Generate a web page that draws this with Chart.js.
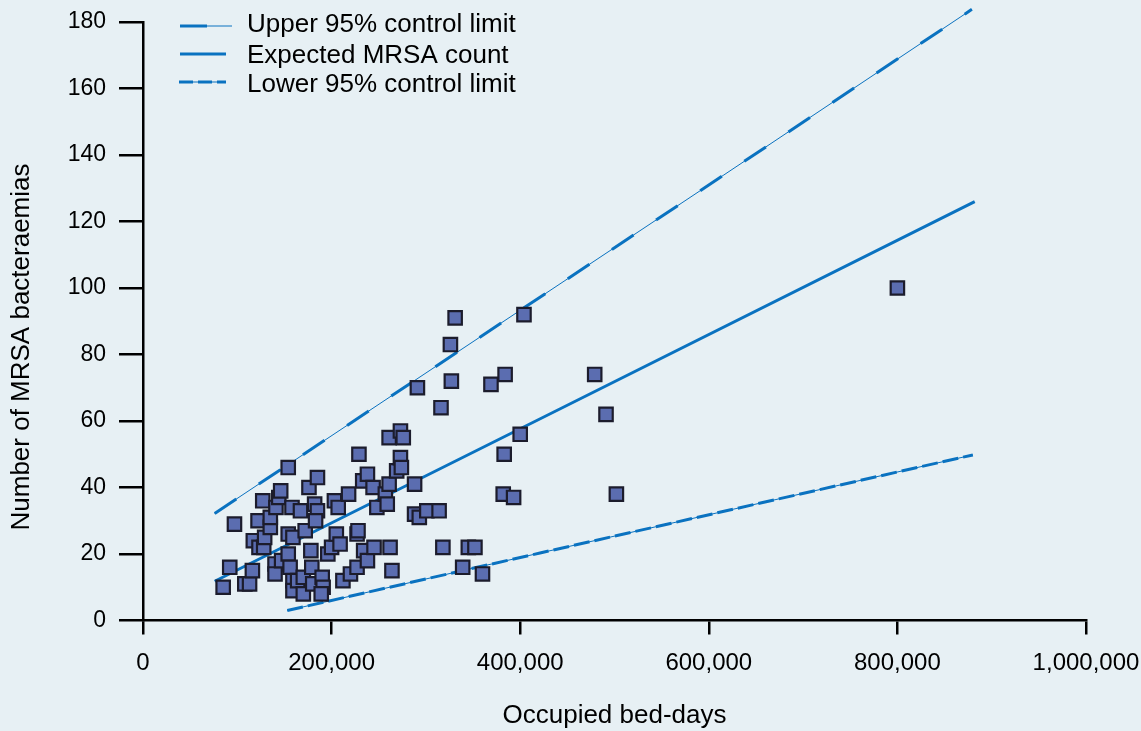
<!DOCTYPE html>
<html>
<head>
<meta charset="utf-8">
<script src="https://cdn.jsdelivr.net/npm/chart.js@4"></script>
<style>
  html, body { margin: 0; padding: 0; background: #e7f0f4; }
  #wrap { width: 1141px; height: 731px; }
</style>
</head>
<body>
<div id="wrap"><canvas id="myChart" width="1141" height="731"></canvas></div>
<script>
// hospital points: occupied bed-days vs MRSA bacteraemias
const bedDays = [85000, 92000, 97000, 108000, 113000, 116000, 117000, 122000, 123000, 127000,
  128000, 129000, 135000, 135000, 140000, 140000, 141000, 144000, 146000, 147000,
  154000, 154000, 154000, 156000, 158000, 159000, 159000, 159000, 164000, 167000,
  170000, 170000, 172000, 176000, 178000, 179000, 180000, 182000, 185000, 185000,
  183000, 190000, 191000, 189000, 196000, 200000, 203000, 205000, 207000, 209000,
  212000, 218000, 220000, 227000, 227000, 228000, 229000, 233000, 234000, 238000,
  238000, 244000, 245000, 248000, 257000, 259000, 261000, 261000, 262000, 264000,
  269000, 273000, 274000, 273000, 276000, 288000, 288000, 293000, 291000, 301000,
  314000, 316000, 318000, 326000, 327000, 331000, 339000, 345000, 352000, 360000,
  369000, 384000, 383000, 382000, 393000, 400000, 404000, 479000, 491000, 502000,
  800000];
const mrsaCounts = [10, 16, 29, 11, 11, 15, 24, 30, 22, 36,
  22, 25, 28, 31, 17, 14, 34, 37, 39, 18,
  46, 26, 20, 16, 34, 25, 12, 9, 12, 33,
  13, 8, 27, 40, 21, 16, 11, 35, 43, 33,
  30, 13, 10, 8, 20, 22, 36, 26, 34, 23,
  12, 38, 14, 16, 26, 27, 50, 42, 21, 44,
  18, 40, 22, 34, 38, 35, 41, 55, 22, 15,
  45, 49, 46, 57, 55, 41, 32, 31, 70, 33,
  33, 64, 22, 83, 72, 91, 16, 22, 22, 14,
  71, 74, 50, 38, 37, 56, 92, 74, 62, 38,
  100];

// control lines
const upperX = [76000, 616000, 879000];
const upperY = [32.2, 134.0, 183.8];
const expectedX = [76000, 442000, 882000];
const expectedY = [11.8, 63.6, 126.0];
const lowerX = [153000, 421000, 880000];
const lowerY = [3.0, 20.3, 49.8];

const xTicks = [0, 200000, 400000, 600000, 800000, 1000000];
const yTicks = [0, 20, 40, 60, 80, 100, 120, 140, 160, 180];

const legendLabels = ['Upper 95% control limit', 'Expected MRSA count', 'Lower 95% control limit'];
const xTitle = 'Occupied bed-days';
const yTitle = 'Number of MRSA bacteraemias';

const FONT = '"Liberation Sans", Arial, sans-serif';
const BLUE = '#0a72c0';

function pts(xs, ys) {
  return xs.map((x, i) => ({x: x, y: ys[i]}));
}

// tło, legenda i tytuł osi Y
const extras = {
  id: 'extras',
  beforeDraw(chart) {
    const c = chart.ctx;
    c.save();
    c.fillStyle = '#e7f0f4';
    c.fillRect(0, 0, chart.width, chart.height);
    c.restore();
  },
  afterDraw(chart) {
    const c = chart.ctx;
    c.save();
    c.strokeStyle = BLUE;
    // upper sample: thick dash then thin line
    c.lineWidth = 1;
    c.beginPath(); c.moveTo(180, 26); c.lineTo(232, 26); c.stroke();
    c.lineWidth = 3;
    c.beginPath(); c.moveTo(180, 26); c.lineTo(207, 26); c.stroke();
    // expected sample
    c.lineWidth = 3;
    c.beginPath(); c.moveTo(180, 54); c.lineTo(226, 54); c.stroke();
    // lower sample
    c.lineWidth = 1;
    c.beginPath(); c.moveTo(179, 82); c.lineTo(226, 82); c.stroke();
    c.lineWidth = 3;
    c.setLineDash([14, 5]);
    c.beginPath(); c.moveTo(179, 82); c.lineTo(226, 82); c.stroke();
    c.setLineDash([]);

    c.fillStyle = '#000';
    c.font = '26px ' + FONT;
    c.textBaseline = 'middle';
    c.textAlign = 'left';
    c.fillText(legendLabels[0], 247, 25);
    c.fillText(legendLabels[1], 247, 56);
    c.fillText(legendLabels[2], 247, 85);

    c.translate(22, 347);
    c.rotate(-Math.PI / 2);
    c.textAlign = 'center';
    c.fillText(yTitle, 0, 0);
    c.restore();
  }
};

const ctx = document.getElementById('myChart');
const myChart = new Chart(ctx, {
  type: 'scatter',
  data: {
    datasets: [
      {
        label: 'Hospitals',
        data: pts(bedDays, mrsaCounts),
        pointStyle: 'rect',
        pointRadius: 9.5,
        pointHoverRadius: 9.5,
        pointBackgroundColor: '#5b6db0',
        pointBorderColor: '#1c1c2c',
        pointBorderWidth: 2.2
      },
      {
        label: legendLabels[1],
        data: pts(expectedX, expectedY),
        showLine: true,
        borderColor: BLUE,
        borderWidth: 3,
        pointRadius: 0,
        clip: false
      },
      {
        label: legendLabels[0],
        data: pts(upperX, upperY),
        showLine: true,
        borderColor: BLUE,
        borderWidth: 3,
        borderDash: [26, 27],
        pointRadius: 0,
        clip: false
      },
      {
        label: legendLabels[0] + ' thin',
        data: pts(upperX, upperY),
        showLine: true,
        borderColor: BLUE,
        borderWidth: 1,
        pointRadius: 0,
        clip: false
      },
      {
        label: legendLabels[2],
        data: pts(lowerX, lowerY),
        showLine: true,
        borderColor: BLUE,
        borderWidth: 3,
        borderDash: [16, 5],
        pointRadius: 0,
        clip: false
      },
      {
        label: legendLabels[2] + ' thin',
        data: pts(lowerX, lowerY),
        showLine: true,
        borderColor: BLUE,
        borderWidth: 1,
        pointRadius: 0,
        clip: false
      }
    ]
  },
  options: {
    responsive: false,
    animation: false,
    layout: { padding: { top: 22, right: 55, left: 0, bottom: 0 } },
    plugins: {
      legend: { display: false },
      tooltip: { enabled: false }
    },
    scales: {
      x: {
        type: 'linear',
        min: 0,
        max: 1000000,
        afterBuildTicks: (s) => { s.ticks = xTicks.map(v => ({value: v})); },
        afterFit: (s) => { s.height = 110.5; s.paddingLeft = 0; s.paddingRight = 0; },
        grid: { drawOnChartArea: false, tickLength: 14, color: '#000', lineWidth: 2.5 },
        border: { color: '#000', width: 2.5 },
        ticks: {
          color: '#000',
          padding: 14,
          maxRotation: 0,
          font: { family: FONT, size: 24 },
          callback: (v) => v.toLocaleString('en-US')
        },
        title: {
          display: true,
          text: xTitle,
          color: '#000',
          padding: { top: 0, bottom: 0 },
          font: { family: FONT, size: 26 }
        }
      },
      y: {
        type: 'linear',
        min: 0,
        max: 180,
        afterBuildTicks: (s) => { s.ticks = yTicks.map(v => ({value: v})); },
        afterFit: (s) => { s.width = 143; s.paddingTop = 0; s.paddingBottom = 0; },
        grid: { drawOnChartArea: false, tickLength: 24, color: '#000', lineWidth: 2.5 },
        border: { color: '#000', width: 2.5 },
        ticks: {
          color: '#000',
          padding: 13,
          font: { family: FONT, size: 23 }
        }
      }
    }
  },
  plugins: [extras]
});
</script>
</body>
</html>
